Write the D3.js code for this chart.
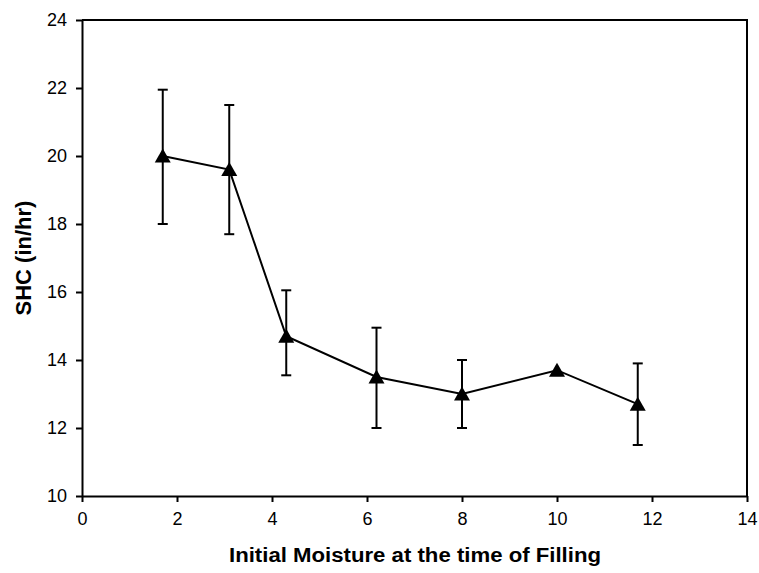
<!DOCTYPE html>
<html>
<head>
<meta charset="utf-8">
<script src="https://cdn.jsdelivr.net/npm/d3@7"></script>
<style>
  body { margin: 0; background: #fff; }
  svg { display: block; font-family: "Liberation Sans", Arial, sans-serif; }
</style>
</head>
<body>
<div id="chart"></div>
<script>
// values
var moisture = [1.7, 3.1, 4.3, 6.2, 8.0, 10.0, 11.7];
var shc      = [20.0, 19.6, 14.7, 13.5, 13.0, 13.7, 12.7];
var errHigh  = [21.95, 21.5, 16.05, 14.95, 14.0, null, 13.9];
var errLow   = [18.0, 17.7, 13.55, 12.0, 12.0, null, 11.5];
var xTicks = [0, 2, 4, 6, 8, 10, 12, 14];
var yTicks = [10, 12, 14, 16, 18, 20, 22, 24];

var data = moisture.map(function(m, i) {
	return { x: m, y: shc[i], hi: errHigh[i], lo: errLow[i] };
});

var width = 759, height = 573;
// plot box edges (don't call these "top" - clashes with window.top)
var plotL = 82, plotR = 747, plotT = 20, plotB = 496;

var svg = d3.select("#chart")
	.append("svg")
	.attr("width", width)
	.attr("height", height);

var x = d3.scaleLinear().domain([0, 14]).range([plotL, plotR]);
var y = d3.scaleLinear().domain([10, 24]).range([plotB, plotT]);

// frame (top + right sides)
svg.append("path")
	.attr("d", "M" + plotL + "," + plotT + "H" + plotR + "V" + plotB)
	.attr("fill", "none")
	.attr("stroke", "#000")
	.attr("stroke-width", 2);

var xAxis = svg.append("g")
	.attr("transform", "translate(0," + plotB + ")")
	.call(d3.axisBottom(x).tickValues(xTicks).tickSize(6).tickPadding(10).tickSizeOuter(0));

var yAxis = svg.append("g")
	.attr("transform", "translate(" + plotL + ",0)")
	.call(d3.axisLeft(y).tickValues(yTicks).tickSize(6).tickPadding(9).tickSizeOuter(0));

[xAxis, yAxis].forEach(function(a) {
	a.select(".domain").attr("stroke-width", 2);
	a.selectAll(".tick line").attr("stroke-width", 2);
	a.selectAll("text")
		.attr("fill", "#000")
		.style("font-size", "18px")
		.style("font-family", "'Liberation Sans', Arial, sans-serif");
});

// error bars
var eb = svg.append("g").selectAll(".err")
	.data(data.filter(function(d) { return d.hi != null; }))
	.enter().append("g")
	.attr("class", "err")
	.attr("stroke", "#000")
	.attr("stroke-width", 2);

eb.append("line")
	.attr("x1", function(d) { return x(d.x); })
	.attr("x2", function(d) { return x(d.x); })
	.attr("y1", function(d) { return y(d.hi); })
	.attr("y2", function(d) { return y(d.lo); });
eb.append("line")
	.attr("x1", function(d) { return x(d.x) - 5; })
	.attr("x2", function(d) { return x(d.x) + 5; })
	.attr("y1", function(d) { return y(d.hi); })
	.attr("y2", function(d) { return y(d.hi); });
eb.append("line")
	.attr("x1", function(d) { return x(d.x) - 5; })
	.attr("x2", function(d) { return x(d.x) + 5; })
	.attr("y1", function(d) { return y(d.lo); })
	.attr("y2", function(d) { return y(d.lo); });

// connecting line
var line = d3.line()
	.x(function(d) { return x(d.x); })
	.y(function(d) { return y(d.y); });

svg.append("path")
	.datum(data)
	.attr("d", line)
	.attr("fill", "none")
	.attr("stroke", "#000")
	.attr("stroke-width", 2);

// triangle markers
svg.append("g").selectAll(".pt")
	.data(data)
	.enter().append("path")
	.attr("class", "pt")
	.attr("d", "M0,-7.5L8,6.5L-8,6.5Z")
	.attr("transform", function(d) { return "translate(" + x(d.x) + "," + y(d.y) + ")"; })
	.attr("fill", "#000");

// axis titles
svg.append("text")
	.attr("x", 415)
	.attr("y", 562)
	.attr("text-anchor", "middle")
	.attr("textLength", 372)
	.attr("lengthAdjust", "spacingAndGlyphs")
	.style("font-size", "20px")
	.style("font-weight", "bold")
	.text("Initial Moisture at the time of Filling");

svg.append("text")
	.attr("transform", "translate(31,258) rotate(-90)")
	.attr("text-anchor", "middle")
	.style("font-size", "22px")
	.style("font-weight", "bold")
	.text("SHC (in/hr)");
</script>
</body>
</html>
